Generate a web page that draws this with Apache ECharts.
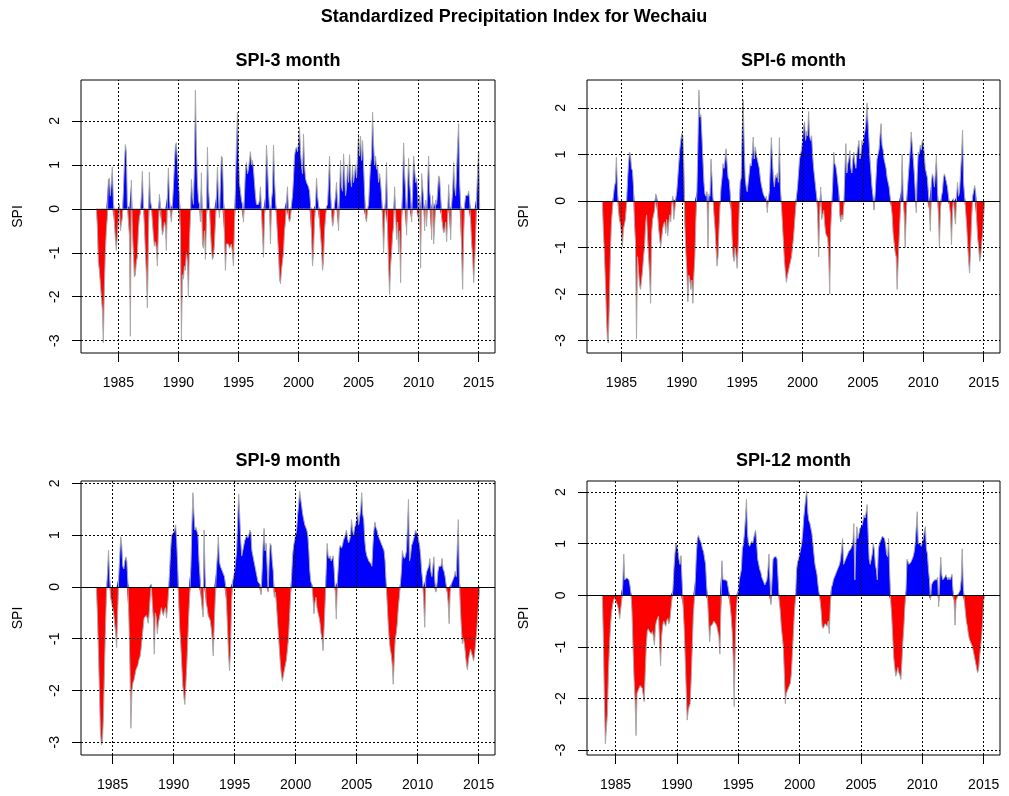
<!DOCTYPE html>
<html>
<head>
<meta charset="utf-8">
<script src="https://cdn.jsdelivr.net/npm/echarts@6/dist/echarts.min.js"></script>
<style>html,body{margin:0;padding:0;background:#fff}#c{width:1009px;height:796px}</style>
</head>
<body>
<div id="c"></div>
<script>
// ---------- DATA (monthly SPI values, Jan 1983 .. Dec 2014; null = not defined) ----------
const START_YEAR = 1983;
const FREQ = 12;
const mainTitle = 'Standardized Precipitation Index for Wechaiu';
const panelTitles = ['SPI-3 month', 'SPI-6 month', 'SPI-9 month', 'SPI-12 month'];
const yLabel = 'SPI';
const xTicks = [1985, 1990, 1995, 2000, 2005, 2010, 2015];
const yTicks = [-3, -2, -1, 0, 1, 2];

const spi3 = [
 null,null,-0.4,-1.2,-1.4,-1.7,-2.0,-2.3,-3.05,-1.8,-1.0,-0.5,
 -0.2,0.65,0.7,0.3,0.6,0.95,0.2,-0.3,-0.7,-0.95,-0.6,-0.6,
 0.1,-0.5,-0.5,-0.2,0.4,1.0,1.46,1.3,0.1,0.1,-0.6,-2.9,
 0.65,-0.5,-1.0,-1.55,-1.5,-1.2,-1.1,-0.5,-0.2,-0.1,0.3,0.85,
 0.1,-0.4,-1.0,-1.5,-2.25,-0.8,0.83,0.2,0.05,-0.3,-0.6,-0.85,
 -0.75,-0.9,-1.3,-0.5,0.33,0.1,-0.3,-0.6,-0.5,-0.3,-0.4,-0.95,
 0.3,0.93,0.3,-0.1,-0.3,0.1,0.5,1.0,1.45,1.5,1.1,0.6,
 0.3,-0.5,-3.0,-1.5,-1.6,-1.3,-1.4,-1.0,-1.2,-2.0,-0.8,-0.2,
 0.67,0.3,0.1,1.0,2.7,1.4,0.6,0.2,0.1,-0.3,0.82,-0.8,
 -0.9,-0.5,-1.15,-0.3,1.4,0.5,0.1,-0.5,-0.9,-1.15,-1.1,-0.8,
 -0.3,0.3,0.95,0.3,-0.2,0.6,1.2,1.15,0.3,-0.6,-1.4,-0.8,
 -0.8,-0.8,-0.9,-0.9,-0.8,-1.0,-1.3,-0.4,0.5,1.5,2.2,1.2,
 0.6,0.4,0.2,0.1,-0.3,0.3,0.9,1.05,0.8,0.9,1.1,1.3,
 1.0,1.1,0.9,0.6,0.3,0.1,0.1,0.1,0.2,0.5,-0.1,-0.6,
 -1.1,-0.2,0.3,1.45,1.0,0.4,0.05,-0.8,0.2,0.4,1.45,0.7,
 0.2,-0.2,-0.6,-1.0,-1.6,-1.7,-1.4,-1.2,-1.0,-0.5,-0.3,0.2,
 0.5,-0.2,-0.3,-0.2,0.1,0.3,0.7,1.2,1.35,1.4,1.3,1.5,
 1.85,1.3,1.0,0.8,1.7,1.0,0.7,0.6,0.6,0.5,0.4,0.1,
 -0.6,-1.3,-1.0,-0.3,0.1,0.7,0.3,0.1,-0.3,-0.6,-0.9,-1.4,
 -1.2,-0.5,-0.2,0.05,0.1,0.6,1.2,0.4,-0.1,-0.4,-0.3,0.1,
 0.3,0.6,0.1,-0.5,0.4,1.1,0.5,0.4,1.25,0.8,0.3,0.5,
 1.0,0.6,1.23,0.7,0.5,1.0,0.6,0.8,1.0,0.7,1.2,1.7,
 1.2,1.65,1.1,1.55,1.0,0.4,-0.2,-0.3,0.0,0.1,0.6,1.0,
 1.2,2.2,1.5,1.0,1.2,0.9,1.0,0.6,0.8,0.6,0.3,-0.2,
 -1.0,-0.3,0.3,1.05,-0.5,-1.3,-1.95,-1.3,-1.0,-0.6,-0.4,0.5,
 -0.1,-0.7,-0.3,-1.0,-0.5,-1.68,-0.3,0.5,1.5,0.8,0.4,-0.6,
 0.5,1.15,0.6,0.3,-0.3,0.4,1.2,0.9,0.6,0.7,0.4,-0.3,
 0.3,-1.35,0.8,0.5,0.2,-0.5,0.2,-0.4,0.6,1.2,0.4,0.2,
 -0.7,0.3,-0.8,-0.4,0.2,0.1,0.4,0.75,0.7,0.3,-0.2,-0.4,
 -0.55,-0.5,-0.3,-0.75,-0.2,0.55,0.1,-0.7,0.1,0.4,1.05,0.5,
 0.3,0.9,1.5,1.94,0.6,0.1,-1.0,-1.83,-0.6,0.1,0.3,0.3,
 0.3,0.4,0.2,-0.3,-0.8,-1.1,-1.68,-1.2,-0.6,0.3,0.9,1.3
];

const spi6 = [
 null,null,null,null,null,-0.6,-1.1,-1.7,-2.4,-2.95,-3.05,-2.2,
 -1.2,-0.5,-0.2,0.1,0.3,0.4,0.94,0.3,-0.2,-0.4,-0.5,-0.7,
 -0.98,-0.6,-0.6,-0.4,-0.1,0.4,0.8,1.05,1.0,0.7,0.65,0.3,
 -0.5,-0.9,-2.96,-1.2,-1.5,-1.8,-1.9,-1.7,-1.5,-1.2,-1.0,-0.5,
 -0.3,-0.8,-1.2,-1.6,-2.2,-0.7,-0.4,-0.3,-0.2,0.15,0.1,-0.3,
 -0.6,-0.8,-1.0,-0.8,-0.6,-0.5,-0.45,-0.7,-0.4,-0.75,-0.5,-0.3,
 -0.45,-0.1,0.1,-0.4,-0.2,0.05,0.2,0.5,0.8,1.1,1.3,1.45,
 1.4,0.8,-0.5,-1.1,-1.5,-2.17,-1.6,-1.7,-1.9,-1.7,-2.2,-1.6,
 -1.2,-0.4,0.2,1.2,2.38,1.8,1.85,1.4,0.9,0.4,0.15,0.1,
 0.2,-1.0,0.15,0.1,0.9,0.5,0.05,-0.3,-0.6,-1.0,-1.4,-1.2,
 -0.6,-0.1,0.3,0.5,0.8,0.7,0.9,1.12,0.8,0.5,0.45,0.2,
 -0.2,-0.8,-1.2,-1.3,-1.0,-1.2,-1.45,-1.0,-0.2,0.4,0.5,1.5,
 2.17,1.2,0.5,0.3,0.2,0.4,0.6,0.8,0.75,1.0,1.37,0.9,
 1.16,1.0,0.9,0.8,0.7,0.5,0.35,0.25,0.15,0.1,0.05,0.1,
 -0.25,0.05,0.2,0.8,1.36,0.9,0.5,0.3,0.55,0.5,0.6,0.4,
 1.36,0.3,-0.1,-0.5,-0.9,-1.3,-1.55,-1.75,-1.6,-1.5,-1.4,-1.3,
 -1.2,-1.0,-0.8,-0.5,-0.2,0.1,0.3,0.6,0.9,1.0,1.1,1.3,
 1.6,1.7,1.3,1.5,1.4,1.92,1.4,1.3,1.4,1.0,0.7,0.5,
 0.3,0.1,-0.3,-1.2,-0.3,0.3,-0.4,-0.3,-0.2,-0.5,-0.7,-0.7,
 -0.8,-1.2,-2.0,-0.6,-0.1,0.4,1.05,0.8,0.75,0.6,0.6,0.2,
 -0.3,-0.45,-0.3,-0.4,-0.1,0.6,1.23,0.6,0.8,0.9,1.08,0.7,
 0.6,0.9,1.05,0.8,0.7,1.0,1.0,1.3,0.9,1.0,1.3,1.2,
 1.4,1.5,1.7,2.1,1.7,1.3,0.9,0.6,0.3,0.1,-0.2,0.1,
 0.5,0.9,1.0,1.1,1.4,1.66,1.2,1.1,0.9,0.8,0.7,0.5,
 0.4,0.3,0.1,-0.1,-0.3,-0.7,-0.9,-1.1,-1.2,-1.9,-1.3,-0.8,
 -0.3,0.2,1.0,0.1,-0.3,-1.0,-0.3,0.2,0.5,0.8,1.1,1.48,
 1.2,0.9,0.6,0.2,-0.25,0.6,1.05,1.0,1.2,1.1,1.3,1.25,
 1.0,0.7,0.6,0.5,0.2,-0.2,-0.65,0.4,0.58,0.5,0.3,0.6,
 0.98,0.3,-0.3,-1.0,-0.2,0.1,0.2,0.5,0.58,0.5,0.4,0.3,
 0.1,-0.1,-0.3,-0.94,-0.2,0.05,-0.3,-0.5,0.1,0.4,0.1,0.2,
 0.6,1.0,1.52,0.4,0.1,-0.2,-0.5,-0.9,-1.3,-1.55,-1.0,-0.4,
 0.1,0.2,0.33,0.2,-0.4,-0.8,-1.0,-1.3,-1.2,-0.9,-0.7,-0.3
];

const spi9 = [
 null,null,null,null,null,null,null,null,-0.5,-1.2,-2.0,-2.8,
 -3.05,-3.0,-2.5,-1.6,-0.8,-0.1,0.3,0.71,0.2,-0.2,-0.3,-0.4,
 -0.5,-0.7,-0.9,-1.17,-0.5,0.2,0.6,0.97,0.8,0.4,0.35,0.5,
 0.58,0.5,0.1,-0.6,-1.5,-2.73,-2.0,-1.85,-1.8,-1.7,-1.6,-1.55,
 -1.5,-1.4,-1.35,-1.2,-1.0,-0.8,-0.6,-0.6,-0.55,-0.6,-0.7,-0.5,
 -0.2,0.05,-0.3,-0.6,-1.3,-0.5,-0.6,-0.9,-0.7,-0.6,-0.5,-0.4,
 -0.5,-0.55,-0.45,-0.4,-0.6,-0.4,-0.1,0.3,0.7,1.0,1.0,1.05,
 1.1,1.2,0.9,0.4,-0.3,-0.8,-1.1,-1.5,-1.9,-2.1,-2.27,-1.9,
 -1.5,-1.0,-0.5,-0.1,0.4,1.2,1.82,1.4,1.1,1.15,1.17,1.0,
 0.5,0.2,-0.2,-0.4,-0.58,1.1,0.2,-0.3,-0.4,-0.55,-0.6,-0.65,
 -0.8,-1.0,-1.33,-0.7,-0.2,0.3,0.6,0.97,0.5,0.4,0.35,0.3,
 0.25,0.2,0.05,-0.3,-0.8,-1.3,-1.62,-1.2,-0.3,0.1,0.2,0.3,
 0.5,0.7,1.3,1.79,1.4,0.9,0.6,0.7,0.8,0.9,0.9,1.0,
 0.95,1.0,1.1,1.05,0.7,0.6,0.5,0.4,0.3,0.2,0.1,0.1,
 0.05,-0.15,0.3,0.8,1.13,0.7,0.84,0.4,-0.1,0.5,0.84,0.8,
 0.5,0.3,-0.2,-0.1,-0.3,-0.6,-0.9,-1.2,-1.5,-1.7,-1.82,-1.7,
 -1.6,-1.5,-1.4,-1.2,-1.0,-0.6,-0.2,0.2,0.6,0.8,0.9,1.0,
 1.1,1.4,1.6,1.85,1.7,1.55,1.4,1.3,1.2,1.15,1.1,1.0,
 0.7,0.3,0.1,0.05,-0.2,-0.52,-0.3,-0.2,-0.4,-0.5,-0.58,-0.7,
 -0.9,-1.0,-1.23,-0.8,-0.3,0.3,0.84,0.6,0.55,0.6,0.5,0.55,
 0.6,0.3,-0.1,-0.62,0.1,0.4,0.75,0.8,0.75,0.8,0.9,0.9,
 1.0,1.1,0.95,0.85,0.9,1.0,1.3,1.1,1.0,1.15,1.2,1.3,
 1.45,1.2,1.2,1.5,1.82,1.4,1.3,0.9,0.7,0.6,0.55,0.5,
 0.5,0.45,0.4,0.8,1.1,1.25,1.15,1.1,1.0,0.95,0.9,0.85,
 0.8,0.75,0.7,0.5,0.1,-0.3,-0.7,-1.0,-1.2,-1.3,-1.5,-1.88,
 -1.4,-1.0,-0.9,-0.7,-0.4,-0.2,0.05,0.3,0.7,0.6,0.55,0.6,
 0.7,1.2,1.69,0.5,0.6,0.8,0.85,0.85,1.0,1.1,1.13,1.0,
 0.9,0.8,0.6,0.3,0.1,-0.3,-0.78,0.2,0.3,0.35,0.4,0.55,
 0.3,0.2,0.4,0.58,0.1,-0.1,0.05,0.3,0.4,0.42,0.4,0.55,
 0.35,0.3,0.2,0.05,-0.1,-0.3,-0.71,-0.1,0.05,0.1,0.15,0.2,
 0.3,0.2,0.8,1.3,0.2,-0.4,-0.8,-1.1,-1.0,-1.1,-1.3,-1.5,
 -1.6,-1.4,-1.3,-1.2,-1.2,-1.35,-1.43,-1.3,-1.1,-0.9,-0.6,-0.3
];

const spi12 = [
 null,null,null,null,null,null,null,null,null,null,null,-0.8,
 -2.0,-2.88,-2.9,-2.3,-1.5,-1.0,-0.6,-0.35,-0.2,-0.1,-0.05,-0.1,
 -0.15,-0.2,-0.3,-0.45,-0.48,-0.1,0.2,0.8,0.3,0.3,0.34,0.34,
 0.3,0.2,0.05,-0.3,-1.0,-1.6,-2.0,-2.72,-1.9,-1.85,-1.8,-1.75,
 -1.75,-1.8,-1.8,-2.06,-1.5,-1.0,-0.7,-0.65,-0.7,-0.7,-0.75,-0.7,
 -0.8,-0.97,-0.6,-0.5,-0.5,-0.4,-0.9,-1.37,-0.8,-0.6,-0.5,-0.55,
 -0.6,-0.5,-0.45,-0.55,-0.5,-0.3,-0.1,0.1,0.5,0.8,1.0,0.95,
 0.85,0.7,0.6,0.77,0.3,-0.2,-0.6,-1.2,-1.8,-2.42,-2.25,-2.15,
 -2.1,-1.6,-1.0,-0.4,-0.1,0.3,0.8,1.1,1.16,1.1,1.05,1.0,
 0.9,0.85,0.87,0.6,0.2,-0.1,-0.5,-0.9,-0.6,-0.6,-0.55,-0.5,
 -0.5,-0.55,-0.6,-0.7,-0.8,-1.14,-0.3,0.67,0.3,0.3,0.3,0.3,
 0.28,0.25,0.05,-0.2,-0.4,-0.7,-1.2,-2.16,-1.0,-0.3,-0.05,0.1,
 0.3,0.4,0.5,0.9,1.0,1.2,1.5,1.86,1.2,1.0,0.95,1.0,
 1.05,1.0,1.1,1.2,1.26,1.0,0.7,0.6,0.5,0.45,0.35,0.3,
 0.25,0.2,0.2,0.3,0.5,0.8,0.3,-0.18,0.3,0.7,0.74,0.74,
 0.75,0.7,0.3,-0.1,-0.3,-0.6,-0.8,-1.0,-1.5,-2.1,-1.9,-1.85,
 -1.8,-1.8,-1.7,-1.5,-1.1,-0.7,-0.3,-0.05,0.5,0.65,0.7,0.8,
 0.9,1.0,1.2,1.5,1.7,1.9,2.02,1.6,1.45,1.4,1.4,1.2,
 1.0,0.8,0.6,0.5,0.4,0.2,0.05,-0.1,-0.3,-0.6,-0.64,-0.6,
 -0.55,-0.55,-0.6,-0.5,-0.74,-0.2,0.15,0.2,0.3,0.35,0.4,0.42,
 0.5,0.55,0.6,0.7,0.9,1.1,0.6,0.65,0.7,0.75,0.8,0.85,
 0.85,0.9,0.95,1.0,1.39,0.3,1.0,1.33,1.1,1.2,1.3,1.3,
 1.35,1.45,1.55,1.5,1.6,1.76,1.2,0.7,0.6,0.6,0.8,1.0,
 0.9,0.6,0.5,0.3,0.9,1.0,1.05,1.1,1.15,1.16,1.1,1.0,
 0.8,0.75,1.1,0.5,-0.1,-0.4,-0.8,-1.2,-1.4,-1.57,-1.5,-1.4,
 -1.5,-1.55,-1.63,-1.3,-0.9,-0.6,-0.2,0.1,0.7,0.65,0.6,0.6,
 0.65,0.7,0.75,0.84,1.0,1.3,1.62,1.0,1.0,1.0,0.95,0.95,
 1.1,1.25,1.33,0.9,0.8,0.5,0.3,-0.09,0.2,0.25,0.25,0.3,
 0.3,0.3,0.35,-0.22,0.3,0.74,0.4,0.3,0.3,0.35,0.4,0.35,
 0.3,0.35,0.3,0.35,0.41,0.1,-0.1,-0.58,-0.1,-0.05,0.02,0.05,
 0.1,0.3,0.9,0.2,-0.1,-0.3,-0.5,-0.6,-0.75,-0.85,-0.9,-0.95,
 -1.0,-1.1,-1.2,-1.3,-1.4,-1.5,-1.45,-1.2,-1.0,-0.8,-0.5,-0.1
];

const panelData = [spi3, spi6, spi9, spi12];

// ---------- LAYOUT / STYLE ----------
const FONT = '"Liberation Sans", Arial, Helvetica, sans-serif';
const boxes = [
  { left: 81,  top: 80,  width: 414, height: 273 },
  { left: 587, top: 80,  width: 413, height: 273 },
  { left: 81,  top: 481, width: 414, height: 274 },
  { left: 587, top: 481, width: 413, height: 274 }
];
const titleY = [61, 61, 461, 461];

const grids = [], xAxes = [], yAxes = [], series = [], graphics = [];

graphics.push({
  type: 'text', x: 514, y: 17, silent: true,
  style: { text: mainTitle, x: 0, y: 0, align: 'center', verticalAlign: 'middle',
           font: 'bold 18px ' + FONT, fill: '#000' }
});

panelData.forEach((vals, k) => {
  const first = vals.findIndex(v => v !== null);
  const t0 = START_YEAR + first / FREQ;
  const datt = [0].concat(vals.slice(first), [0]);
  const pts = datt.map((v, j) => [t0 + j / FREQ, v]);
  const tMin = pts[0][0], tMax = pts[pts.length - 1][0];
  const vMin = Math.min.apply(null, datt), vMax = Math.max.apply(null, datt);
  const dx = (tMax - tMin) * 0.04, dy = (vMax - vMin) * 0.04;
  const b = boxes[k];

  grids.push({ left: b.left, top: b.top, width: b.width, height: b.height,
    show: true, borderColor: '#000', borderWidth: 1, backgroundColor: 'transparent',
    containLabel: false, outerBoundsMode: 'none' });

  xAxes.push({
    type: 'value', gridIndex: k, min: tMin - dx, max: tMax + dx,
    axisLine: { show: false, onZero: false },
    axisTick: { show: true, inside: false, length: 9, customValues: xTicks,
                lineStyle: { color: '#000', width: 1 } },
    axisLabel: { show: true, customValues: xTicks, margin: 23, color: '#000',
                 fontSize: 14, fontFamily: FONT, formatter: v => String(Math.round(v)) },
    splitLine: { show: false }
  });
  yAxes.push({
    type: 'value', gridIndex: k, min: vMin - dy, max: vMax + dy,
    axisLine: { show: false, onZero: false },
    axisTick: { show: true, inside: false, length: 9, customValues: yTicks,
                lineStyle: { color: '#000', width: 1 } },
    axisLabel: { show: true, customValues: yTicks, rotate: 90, margin: 19, color: '#000',
                 fontSize: 14, fontFamily: FONT, formatter: v => String(Math.round(v)) },
    splitLine: { show: false }
  });

  // dotted grid (drawn first, underneath)
  series.push({
    type: 'line', xAxisIndex: k, yAxisIndex: k, data: [[tMin, 0]], symbol: 'none',
    lineStyle: { width: 0, opacity: 0 }, silent: true, z: 1,
    markLine: {
      silent: true, symbol: ['none', 'none'], label: { show: false }, animation: false,
      lineStyle: { color: '#000', width: 1, type: [2, 2] },
      emphasis: { disabled: true },
      data: xTicks.map(v => ({ xAxis: v })).concat(yTicks.map(v => ({ yAxis: v })))
    }
  });
  // positive part (blue)
  series.push({
    type: 'line', xAxisIndex: k, yAxisIndex: k, symbol: 'none', silent: true, z: 2,
    data: pts.map(p => [p[0], Math.max(p[1], 0)]),
    lineStyle: { width: 0, opacity: 0 },
    areaStyle: { color: '#0000ff', opacity: 1 }
  });
  // negative part (red)
  series.push({
    type: 'line', xAxisIndex: k, yAxisIndex: k, symbol: 'none', silent: true, z: 2,
    data: pts.map(p => [p[0], Math.min(p[1], 0)]),
    lineStyle: { width: 0, opacity: 0 },
    areaStyle: { color: '#ff0000', opacity: 1 }
  });
  // series line (dark grey)
  series.push({
    type: 'line', xAxisIndex: k, yAxisIndex: k, symbol: 'none', silent: true, z: 3,
    data: pts, lineStyle: { color: '#a9a9a9', width: 1 }
  });
  // zero line
  series.push({
    type: 'line', xAxisIndex: k, yAxisIndex: k, data: [[tMin, 0]], symbol: 'none',
    lineStyle: { width: 0, opacity: 0 }, silent: true, z: 4,
    markLine: {
      silent: true, symbol: ['none', 'none'], label: { show: false }, animation: false,
      lineStyle: { color: '#000', width: 1, type: 'solid' },
      emphasis: { disabled: true },
      data: [{ yAxis: 0 }]
    }
  });

  graphics.push({
    type: 'text', x: b.left + b.width / 2, y: titleY[k], silent: true,
    style: { text: panelTitles[k], x: 0, y: 0, align: 'center', verticalAlign: 'middle',
             font: 'bold 18px ' + FONT, fill: '#000' }
  });
  graphics.push({
    type: 'text', x: b.left - 63, y: b.top + b.height / 2, rotation: Math.PI / 2, silent: true,
    style: { text: yLabel, x: 0, y: 0, align: 'center', verticalAlign: 'middle',
             font: '14px ' + FONT, fill: '#000' }
  });
});

const chart = echarts.init(document.getElementById('c'), null, { renderer: 'canvas' });
chart.setOption({
  animation: false,
  backgroundColor: '#ffffff',
  grid: grids,
  xAxis: xAxes,
  yAxis: yAxes,
  series: series,
  graphic: graphics
});
</script>
</body>
</html>
